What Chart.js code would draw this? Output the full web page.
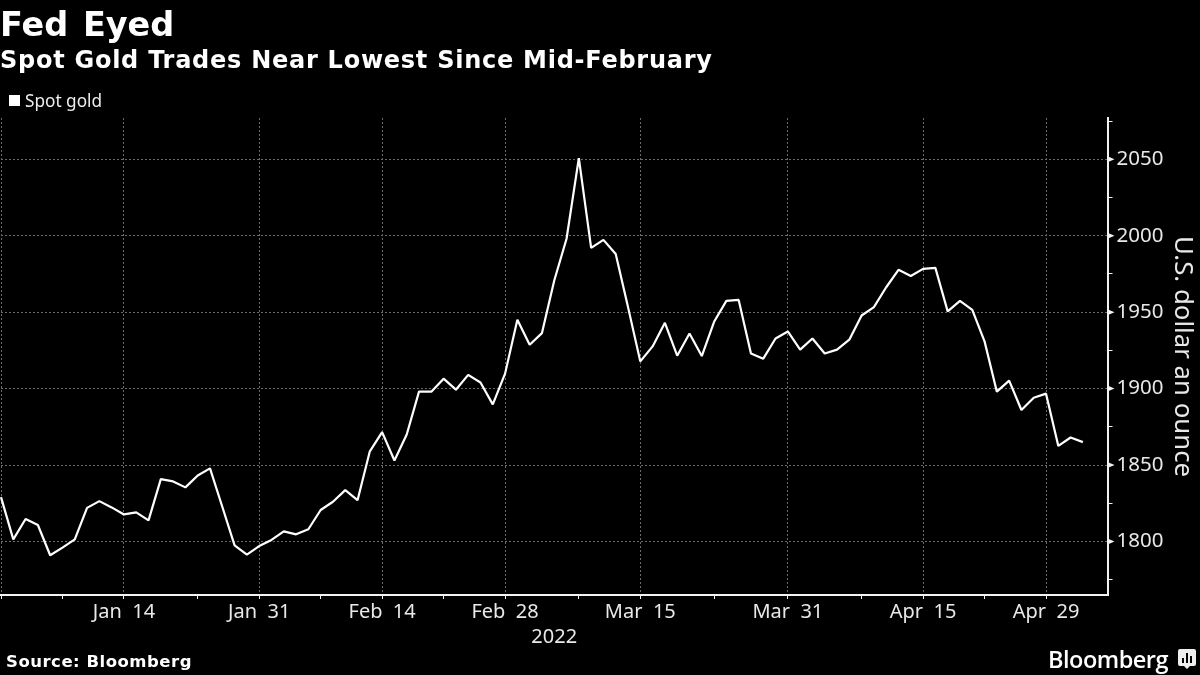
<!DOCTYPE html>
<html>
<head>
<meta charset="utf-8">
<title>Fed Eyed</title>
<script src="https://cdn.jsdelivr.net/npm/chart.js@4"></script>
<style>
html,body{margin:0;padding:0;background:#000;}
#wrap{position:relative;width:1200px;height:675px;overflow:hidden;color:#fff;}
#chart{position:absolute;left:0;top:0;}
.txt{position:absolute;white-space:nowrap;}
#title{left:0;top:5px;font:bold 33.5px "DejaVu Sans";word-spacing:3px;}
#subtitle{left:0;top:46px;font:bold 24px "DejaVu Sans";letter-spacing:.74px;}
#legendBox{position:absolute;left:9px;top:95px;width:11px;height:11px;background:#fff;}
#legendText{left:25px;top:89px;font:17.2px "Noto Sans";color:#eee;}
#source{left:6px;top:652px;font:bold 16.5px "DejaVu Sans";letter-spacing:.5px;}
#brand{left:1048px;top:643px;font:600 23.5px "Open Sans";letter-spacing:-.5px;}
#logo{position:absolute;left:1178px;top:649px;}
</style>
</head>
<body>
<div id="wrap">
<canvas id="chart" width="1200" height="675"></canvas>
<div class="txt" id="title">Fed Eyed</div>
<div class="txt" id="subtitle">Spot Gold Trades Near Lowest Since Mid-February</div>
<div id="legendBox"></div>
<div class="txt" id="legendText">Spot gold</div>
<div class="txt" id="source">Source: Bloomberg</div>
<div class="txt" id="brand">Bloomberg</div>
<svg id="logo" width="18" height="22" viewBox="0 0 18 22">
<path d="M2 0H16Q18 0 18 2V15Q18 17 16 17H12L9 20L6 17H2Q0 17 0 15V2Q0 0 2 0Z" fill="#eee"/>
<path d="M4 9h2v5h-2zM8 4h2v10h-2zM12 7h2v7h-2z" fill="#000"/>
</svg>
</div>
<script>
/* ===========================
   DATA
=========================== */
const categories = [
"Dec 31",
"Jan 3","Jan 4","Jan 5","Jan 6","Jan 7",
"Jan 10","Jan 11","Jan 12","Jan 13","Jan 14",
"Jan 17","Jan 18","Jan 19","Jan 20","Jan 21",
"Jan 24","Jan 25","Jan 26","Jan 27","Jan 28",
"Jan 31","Feb 1","Feb 2","Feb 3","Feb 4",
"Feb 7","Feb 8","Feb 9","Feb 10","Feb 11",
"Feb 14","Feb 15","Feb 16","Feb 17","Feb 18",
"Feb 21","Feb 22","Feb 23","Feb 24","Feb 25",
"Feb 28","Mar 1","Mar 2","Mar 3","Mar 4",
"Mar 7","Mar 8","Mar 9","Mar 10","Mar 11",
"Mar 14","Mar 15","Mar 16","Mar 17","Mar 18",
"Mar 21","Mar 22","Mar 23","Mar 24","Mar 25",
"Mar 28","Mar 29","Mar 30","Mar 31","Apr 1",
"Apr 4","Apr 5","Apr 6","Apr 7","Apr 8",
"Apr 11","Apr 12","Apr 13","Apr 14","Apr 15",
"Apr 18","Apr 19","Apr 20","Apr 21","Apr 22",
"Apr 25","Apr 26","Apr 27","Apr 28","Apr 29",
"May 2","May 3","May 4","May 5","May 6"
];

const spotGold = [
1829,1801.4,1814.7,1810.8,1791,1796,
1801.4,1822,1826.4,1822.3,1817.7,
1819,1813.8,1840.8,1839.3,1835.4,
1843.2,1847.8,1822.7,1797.5,1791.4,
1797,1801,1806.6,1804.7,1808,
1820.6,1826,1833.6,1827,1859,
1871.5,1853,1870,1898,1898,
1906.5,1899.3,1909,1904,1889.7,
1909.8,1945,1928.7,1936.3,1970.7,
1998,2050.8,1992,1997.3,1988,
1953.3,1917.8,1927.6,1943,1921.5,
1936,1921.3,1943.7,1957.4,1958,
1923,1919.6,1932.8,1937.4,1925.5,
1932.8,1923,1925.5,1932,1947.8,
1953.3,1966.3,1977.7,1973.7,1978.3,
1979,1950.5,1957.4,1951.5,1930.9,
1898,1905.2,1886,1894,1896.7,
1862.5,1868,1865
];

const xMajorTicks = ["Dec 31","Jan 14","Jan 31","Feb 14","Feb 28","Mar 15","Mar 31","Apr 15","Apr 29"];
const xMinorTicks = ["Jan 7","Jan 24","Feb 7","Feb 21","Mar 8","Mar 23","Apr 8","Apr 22"];
const yMajorTicks = [1800,1850,1900,1950,2000,2050];
const yMinorTicks = [1775,1825,1875,1925,1975,2025,2075];

const GRID = "#6a6a6a";
const AXIS = "#f2f2f2";
const LABEL = "#e8e8e8";

/* ===========================
   TICK ARROWS ON THE Y AXIS
=========================== */
const tickArrows = {
    id:"tickArrows",
    afterDraw(chart){
        const ctx = chart.ctx;
        const y = chart.scales.y;
        ctx.save();
        ctx.fillStyle = AXIS;
        yMajorTicks.forEach(v => {
            const py = y.getPixelForValue(v);
            ctx.beginPath();
            ctx.moveTo(y.left, py - 3);
            ctx.lineTo(y.left + 7, py);
            ctx.lineTo(y.left, py + 3);
            ctx.closePath();
            ctx.fill();
        });
        ctx.restore();
    }
};

/* ===========================
   LINE CHART
=========================== */
new Chart(document.getElementById("chart"),{
    type:"line",
    plugins:[tickArrows],
    data:{
        labels:categories,
        datasets:[{
            label:"Spot gold",
            data:spotGold,
            borderColor:"#ffffff",
            borderWidth:2.2,
            borderJoinStyle:"bevel",
            pointRadius:0,
            tension:0,
            clip:false
        }]
    },
    options:{
        responsive:false,
        animation:false,
        layout:{
            autoPadding:false,
            padding:{top:118,left:0,right:0,bottom:0}
        },
        plugins:{
            legend:{display:false},
            tooltip:{enabled:false}
        },
        scales:{
            x:{
                type:"category",
                offset:false,
                afterBuildTicks(scale){
                    scale.ticks = xMajorTicks.concat(xMinorTicks)
                        .map(d => categories.indexOf(d))
                        .sort((a,b) => a - b)
                        .map(i => ({value:i}));
                },
                afterFit(scale){
                    scale.height = 80;
                },
                ticks:{
                    autoSkip:false,
                    maxRotation:0,
                    color:LABEL,
                    padding:1,
                    font:{family:"Noto Sans",size:20},
                    callback(value){
                        const name = categories[value];
                        if(!xMajorTicks.includes(name) || name === "Dec 31") return "";
                        // the reference sets a wide gap between month and day
                        return name.replace(" ","  ");
                    }
                },
                grid:{
                    color(c){
                        return xMajorTicks.includes(categories[c.tick.value]) ? GRID : "transparent";
                    },
                    tickColor:AXIS,
                    tickLength:4,
                    lineWidth:1
                },
                border:{color:AXIS,width:2,dash:[2,2]},
                title:{
                    display:true,
                    text:"2022",
                    color:LABEL,
                    font:{family:"Noto Sans",size:20},
                    padding:{top:0,bottom:26}
                }
            },
            y:{
                position:"right",
                min:1765,
                max:2077,
                afterBuildTicks(scale){
                    scale.ticks = yMajorTicks.concat(yMinorTicks)
                        .sort((a,b) => a - b)
                        .map(v => ({value:v}));
                },
                afterFit(scale){
                    scale.width = 92.5;
                },
                ticks:{
                    autoSkip:false,
                    color:LABEL,
                    padding:4,
                    font:{family:"Noto Sans",size:20.5},
                    callback(value){
                        return yMajorTicks.includes(value) ? String(value) : "";
                    }
                },
                grid:{
                    color(c){
                        return yMajorTicks.includes(c.tick.value) ? GRID : "transparent";
                    },
                    tickColor:AXIS,
                    tickLength:5,
                    lineWidth:1
                },
                border:{color:AXIS,width:2,dash:[2,2]},
                title:{
                    display:true,
                    text:"U.S. dollar an ounce",
                    color:LABEL,
                    font:{family:"Noto Sans",size:25.8},
                    padding:{top:2,bottom:0}
                }
            }
        }
    }
});
</script>
</body>
</html>
